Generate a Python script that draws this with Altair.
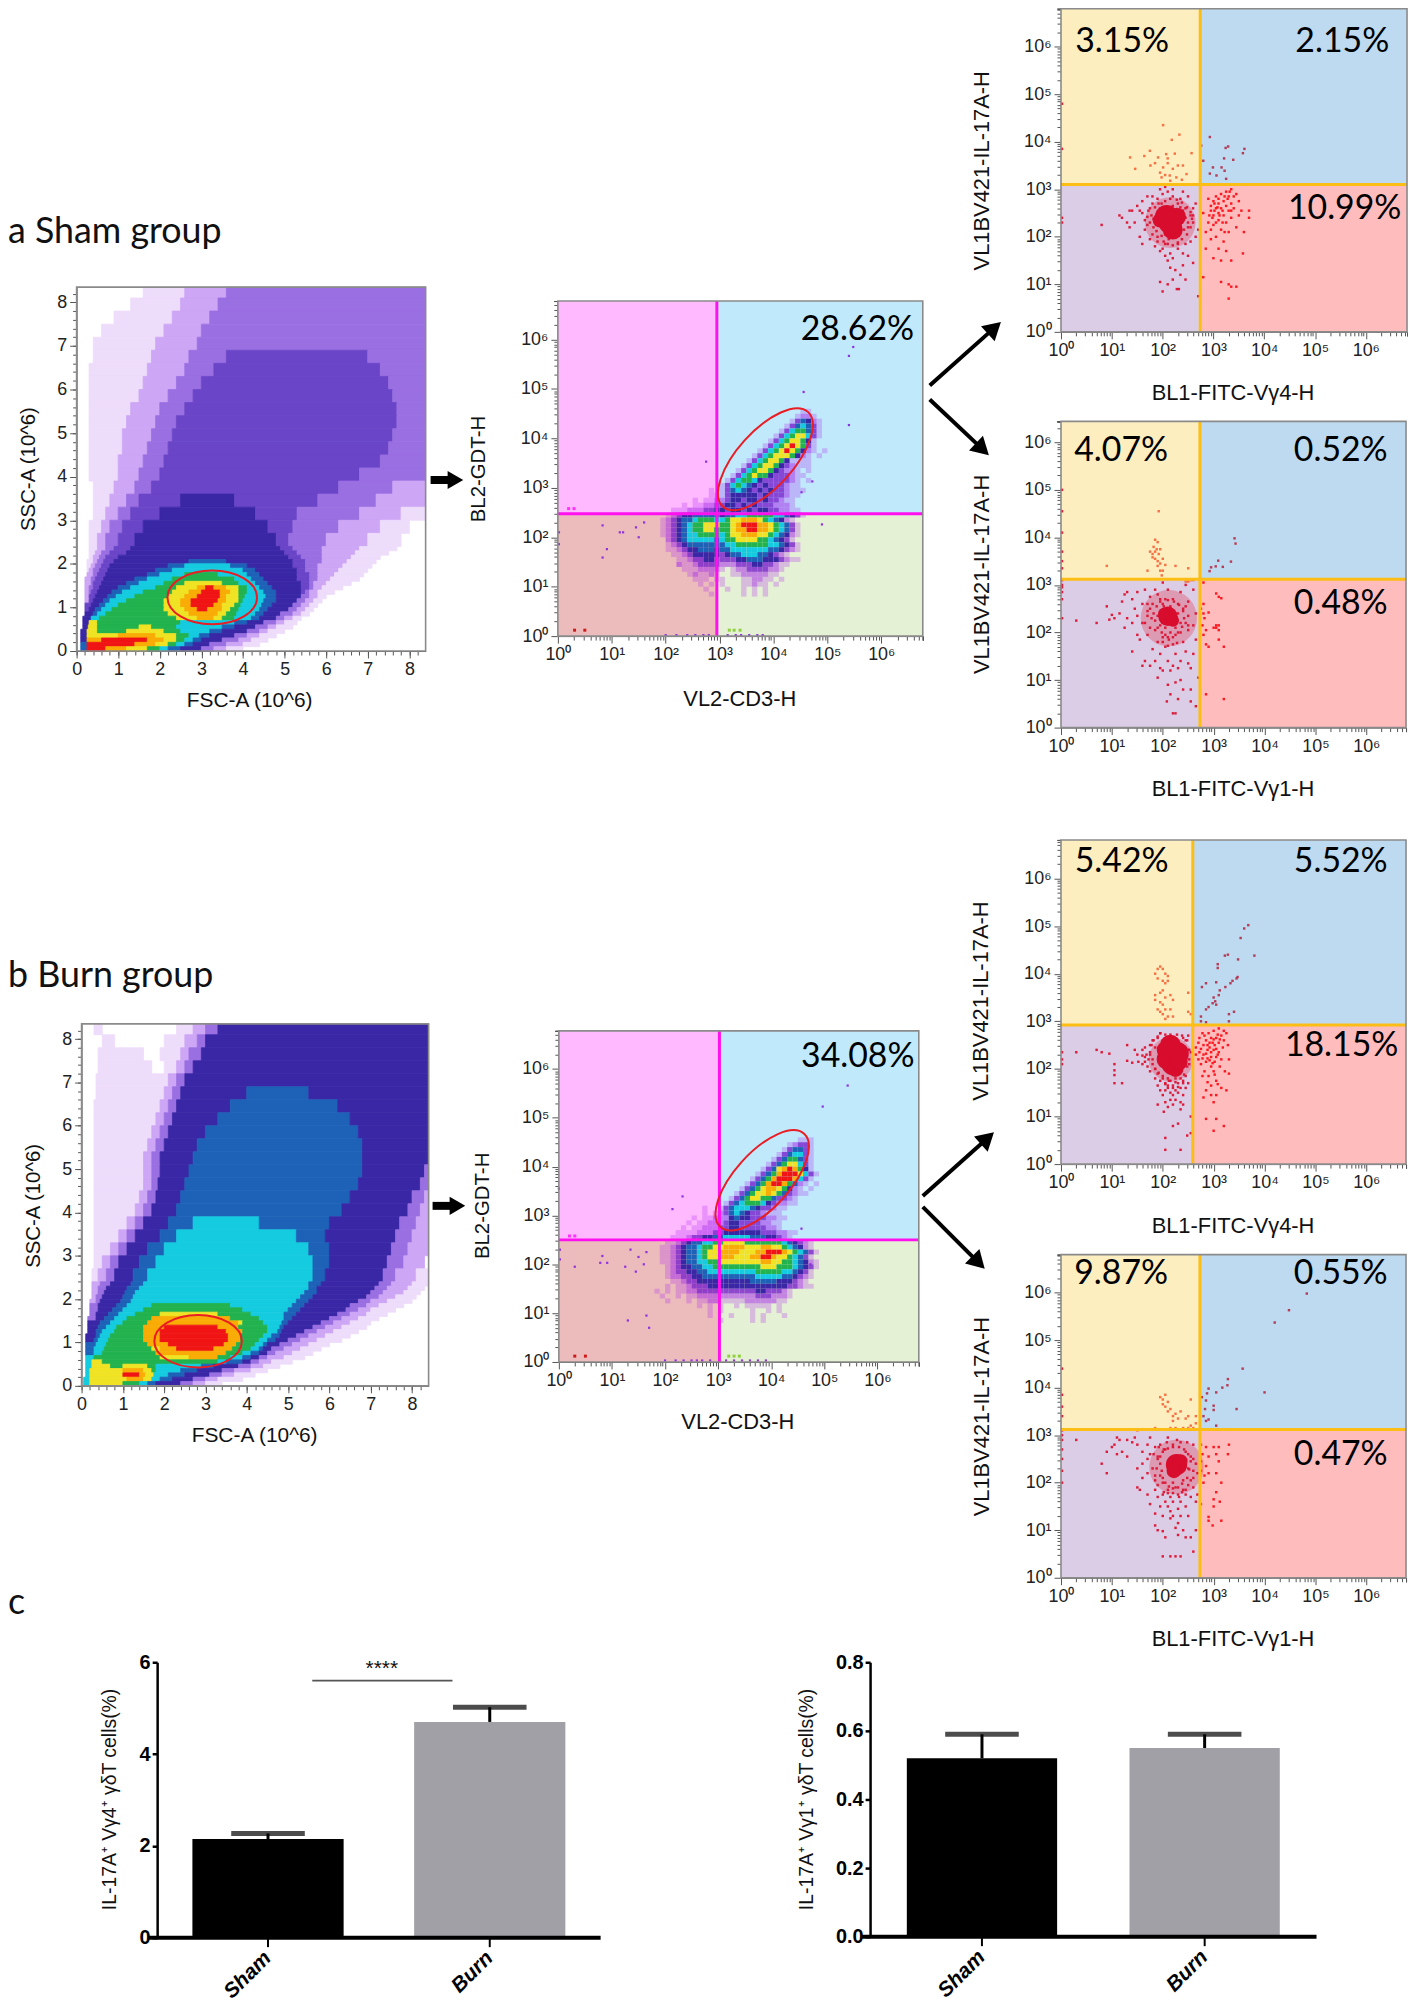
import numpy as np
import pandas as pd
import altair as alt

W, H = 1410, 1996

# ---------- density rows read by eye: each row is "level:x_end" runs, top row first ----------
OPAQUE = {"1": "#eedcfb", "2": "#cda6f5", "3": "#9a6fe2", "n": "#6a45c8", "4": "#3a27a6", "5": "#1e62b8",
          "6": "#14cbdf", "7": "#22b24e", "8": "#efe324", "9": "#f9ac05", "r": "#f01414"}
SEE_THROUGH = dict(OPAQUE, **{"1": "rgba(176,48,240,0.28)", "2": "rgba(165,40,235,0.55)", "3": "rgba(120,30,205,0.8)"})

FSC_SHAM_UPPER = [
".:1.6 1:2.6 2:3.6 3:8.4",
".:1.3 1:2.5 2:3.4 3:8.4",
".:.9 1:2.3 2:3.2 3:8.4",
".:.6 1:2.1 2:3.0 3:8.4",
".:.4 1:1.9 2:2.9 3:8.4",
".:.4 1:1.8 2:2.7 3:3.6 n:7 3:8.4",
".:.3 1:1.7 2:2.6 3:3.3 n:7.3 3:8.4",
".:.3 1:1.6 2:2.4 3:3.0 n:7.5 3:8.4",
".:.3 1:1.5 2:2.2 3:2.8 n:7.6 3:8.4",
".:.3 1:1.3 2:2.0 3:2.6 n:7.7 3:8.4",
".:.3 1:1.2 2:1.9 3:2.4 n:7.7 3:8.4",
".:.3 1:1.1 2:1.8 3:2.3 n:7.6 3:8.4",
".:.3 1:1.1 2:1.7 3:2.2 n:7.5 3:8.4",
".:.3 1:1.0 2:1.6 3:2.1 n:7.3 3:8.4",
".:.3 1:1.0 2:1.5 3:2.0 n:6.8 3:8.4",
".:.4 1:.9 2:1.4 3:1.8 n:6.3 3:7.6 2:8.4",
".:.4 1:.8 2:1.2 3:1.5 n:2.5 4:3.8 n:5.8 3:7.2 2:8.4",
".:.4 1:.7 2:1.0 3:1.3 n:2 4:4.3 n:5.3 3:6.8 2:7.8 1:8.4",
".:.3 1:.6 2:.8 3:1.1 n:1.6 4:4.6 n:5.2 3:6.3 2:7.3 1:8",
".:.3 1:.5 2:.7 3:1 n:1.4 4:4.8 n:5.1 3:6 2:7 1:7.8",
]
FSC_SHAM_LOWER = [
".:.3 1:.5 2:.7 3:.9 n:1.3 4:4.9 n:5.2 3:5.9 2:6.8 1:7.7",
".:.3 1:.45 2:.6 3:.8 n:1.2 4:5.0 n:5.3 3:5.9 2:6.7 1:7.5",
".:.3 1:.4 2:.55 3:.7 n:1.0 4:5.1 n:5.4 3:5.9 2:6.6 1:7.3",
".:.25 1:.4 2:.5 3:.65 n:.9 4:2.7 5:3.6 4:5.2 n:5.5 3:5.9 2:6.5 1:7.2",
".:.25 1:.35 2:.45 3:.6 n:.8 4:2.2 5:2.6 6:3.7 5:4.1 4:5.2 n:5.5 3:5.8 2:6.4 1:7.1",
".:.25 1:.3 2:.4 3:.55 n:.75 4:1.9 5:2.3 6:4.0 5:4.3 4:5.3 n:5.5 3:5.8 2:6.3 1:7",
".:.25 2:.4 3:.5 n:.7 4:1.7 5:2.0 6:2.6 7:3.4 6:4.1 5:4.4 4:5.3 n:5.6 3:5.8 2:6.2 1:6.9",
".:.2 2:.35 3:.45 n:.65 4:1.4 5:1.7 6:2.3 7:3.8 6:4.2 5:4.5 4:5.3 n:5.6 3:5.8 2:6.1 1:6.8",
".:.2 2:.35 3:.4 n:.6 4:1.2 5:1.5 6:2.1 7:2.6 8:3.5 7:3.9 6:4.3 5:4.6 4:5.4 n:5.6 3:5.7 2:6 1:6.6",
".:.2 2:.3 3:.4 n:.55 4:1 5:1.3 6:1.9 7:2.4 8:2.9 9:3.1 r:3.3 9:3.6 8:3.9 7:4.1 6:4.4 5:4.7 4:5.4 n:5.6 3:5.7 2:5.9 1:6.4",
".:.2 2:.3 3:.35 n:.5 4:.85 5:1.1 6:1.6 7:2.3 8:2.7 9:3.0 r:3.45 9:3.7 8:3.9 7:4.1 6:4.5 5:4.8 4:5.4 n:5.5 3:5.6 2:5.8 1:6.2",
".:.2 2:.3 n:.45 4:.75 5:.95 6:1.4 7:2.2 8:2.6 9:2.9 r:3.45 9:3.6 8:3.9 7:4.05 6:4.55 5:4.8 4:5.4 3:5.6 2:5.8 1:6",
".:.2 2:.3 n:.4 4:.65 5:.8 6:1.2 7:2.1 8:2.5 9:2.75 r:3.4 9:3.6 8:3.9 7:4 6:4.5 5:4.8 4:5.3 3:5.5 2:5.7 1:5.9",
".:.2 n:.35 4:.55 5:.7 6:1.0 7:2.1 8:2.5 9:2.75 r:3.3 9:3.5 8:3.8 7:3.95 6:4.45 5:4.7 4:5.2 3:5.4 2:5.6 1:5.8",
".:.2 n:.3 4:.45 5:.6 6:.85 7:2.1 8:2.6 9:2.9 r:3.15 9:3.5 8:3.7 7:3.9 6:4.4 5:4.6 4:5.1 3:5.3 2:5.5 1:5.7",
".:.2 4:.4 5:.5 6:.7 7:2.2 8:2.7 9:3.4 8:3.6 7:3.85 6:4.3 5:4.5 4:4.9 3:5.2 2:5.4 1:5.6",
".:.15 4:.35 6:.55 7:2.4 8:2.9 9:3.3 8:3.5 7:3.8 6:4.2 5:4.4 4:4.8 3:5 2:5.2 1:5.4",
".:.15 4:.3 8:.5 7:2.5 6:3.8 5:4.1 4:4.5 3:4.8 2:5 1:5.3",
".:.15 4:.28 8:.5 7:1.5 8:1.8 7:2.4 6:3.5 5:3.8 4:4.3 3:4.6 2:4.8 1:5.2",
".:.1 4:.25 8:.5 7:1.2 8:2.1 7:2.5 6:3.2 5:3.5 4:4.1 3:4.4 2:4.6 1:5",
".:.1 4:.25 8:1 9:1.9 8:2.4 7:2.7 6:2.95 5:3.2 4:3.8 3:4.1 2:4.4 1:4.8",
".:.1 4:.25 9:.6 r:1.7 9:2.1 8:2.4 7:2.6 6:2.8 5:3.0 4:3.5 3:3.9 2:4.2 1:4.6",
".:.1 5:.25 r:1.4 9:1.9 8:2.2 7:2.4 6:2.6 5:2.8 4:3.2 3:3.6 2:4 1:4.4",
".:.1 5:.25 r:.7 9:1.2 8:1.7 7:2 6:2.2 5:2.5 4:3 3:3.3 2:3.6 1:4",
]
FSC_BURN_UPPER = [
".:.3 1:.5 .:2.3 1:2.7 2:3 3:3.3 4:8.4",
".:.5 1:.8 .:2 1:2.5 2:2.8 3:3 4:8.4",
".:.4 1:1.5 .:1.9 1:2.4 2:2.6 3:2.9 4:8.4",
".:.4 1:1.7 .:2 1:2.3 2:2.5 3:2.7 4:8.4",
".:.35 1:2.1 2:2.3 3:2.5 4:8.4",
".:.35 1:2.0 2:2.2 3:2.4 4:4.0 5:5.5 4:8.4",
".:.3 1:1.9 2:2.1 3:2.3 4:3.6 5:6.2 4:8.4",
".:.3 1:1.8 2:2 3:2.2 4:3.3 5:6.5 4:8.4",
".:.3 1:1.7 2:1.9 3:2.1 4:3.0 5:6.7 4:8.4",
".:.3 1:1.6 2:1.8 3:2.0 4:2.8 5:6.8 4:8.4",
".:.3 1:1.5 2:1.7 3:1.9 4:2.7 5:6.8 4:8.4",
".:.3 1:1.5 2:1.7 3:1.9 4:2.6 5:6.8 4:8.3 3:8.4",
".:.3 1:1.5 2:1.7 3:1.85 4:2.5 5:6.7 4:8.2 3:8.4",
".:.3 1:1.4 2:1.6 3:1.8 4:2.4 5:6.5 4:8 3:8.3 2:8.4",
".:.3 1:1.3 2:1.5 3:1.7 4:2.3 5:6.3 4:7.9 3:8.2 2:8.4",
".:.3 1:1.1 2:1.3 3:1.5 4:2.1 5:2.7 6:4.3 5:6 4:7.7 3:8.1 2:8.4",
".:.3 1:.9 2:1.1 3:1.3 4:1.9 5:2.3 6:5.2 5:5.9 4:7.6 3:8 2:8.4",
".:.3 1:.7 2:.9 3:1.1 4:1.6 5:2.0 6:5.5 5:6 4:7.5 3:7.9 2:8.4",
".:.3 1:.5 2:.7 3:.9 4:1.4 5:1.8 6:5.6 5:6 4:7.4 3:7.8 2:8.3",
".:.25 1:.4 2:.6 3:.8 4:1.25 5:1.6 6:5.6 5:5.9 4:7.3 3:7.6 2:8.1 1:8.4",
]
FSC_BURN_LOWER = [
".:.25 2:.45 3:.7 4:1.2 5:1.5 6:5.5 5:5.8 4:7.2 3:7.5 2:8 1:8.4",
".:.25 2:.4 3:.6 4:1.1 5:1.4 6:5.5 5:5.7 4:7.1 3:7.4 2:7.9 1:8.3",
".:.25 2:.4 3:.55 4:1.05 5:1.3 6:5.4 5:5.7 4:7 3:7.3 2:7.8 1:8.2",
".:.25 2:.35 3:.5 4:1 5:1.25 6:5.3 5:5.6 4:6.9 3:7.2 2:7.6 1:8.1",
".:.2 2:.35 3:.45 4:.95 5:1.2 6:5.2 5:5.5 4:6.7 3:7 2:7.4 1:8",
".:.2 3:.4 4:.85 5:1.1 6:1.7 7:3.6 6:5.1 5:5.4 4:6.5 3:6.9 2:7.2 1:7.8",
".:.2 3:.4 4:.75 5:1 6:1.5 7:3.9 6:5 5:5.3 4:6.4 3:6.7 2:7 1:7.6",
".:.2 3:.35 4:.65 5:.9 6:1.3 7:1.9 8:3.3 7:4.1 6:4.9 5:5.2 4:6.2 3:6.5 2:6.9 1:7.4",
".:.15 3:.35 4:.55 5:.8 6:1.1 7:1.7 9:3.6 7:4.3 6:4.9 5:5.1 4:6 3:6.3 2:6.7 1:7.2",
".:.15 4:.45 5:.7 6:1 7:1.6 9:3.8 8:3.9 7:4.4 6:4.85 5:5 4:5.8 3:6.1 2:6.5 1:7",
".:.15 4:.4 5:.6 6:.85 7:1.5 9:2 r:3.3 9:3.8 7:4.5 6:4.8 5:4.9 4:5.6 3:5.9 2:6.3 1:6.9",
".:.15 4:.35 5:.5 6:.8 7:1.5 9:1.9 r:3.5 9:3.9 7:4.5 6:4.75 5:4.85 4:5.4 3:5.7 2:6.1 1:6.7",
".:.1 4:.35 5:.45 6:.7 7:1.5 9:1.9 r:3.55 9:3.85 7:4.4 6:4.6 5:4.8 4:5.2 3:5.5 2:5.9 1:6.5",
".:.1 4:.3 5:.4 6:.65 7:1.5 9:1.9 r:3.55 9:3.85 7:4.3 6:4.5 5:4.7 4:5 3:5.3 2:5.7 1:6.3",
".:.1 5:.35 6:.6 7:1.6 9:2.1 r:3.45 9:3.75 7:4.2 6:4.4 5:4.5 4:4.8 3:5.1 2:5.5 1:6",
".:.1 5:.3 6:.55 7:1.7 8:1.9 9:2.3 r:3.2 9:3.65 7:4.1 6:4.3 5:4.4 4:4.6 3:4.9 2:5.3 1:5.8",
".:.1 5:.3 6:.5 7:1.8 9:3.5 7:3.9 6:4.1 5:4.3 4:4.5 3:4.7 2:5.1 1:5.6",
".:.1 6:.3 7:1.9 8:2.6 9:3.3 7:3.6 6:3.9 5:4.1 4:4.3 3:4.5 2:4.9 1:5.4",
".:.1 6:.25 8:.5 7:3.3 6:3.5 5:3.9 4:4.1 3:4.3 2:4.6 1:5.1",
".:.1 6:.25 8:.7 7:1.0 8:1.6 7:1.8 6:2.9 5:3.2 4:3.8 3:4.1 2:4.4 1:4.8",
".:.1 6:.2 8:1 9:1.5 8:1.7 7:1.8 6:2.4 5:2.8 4:3.4 3:3.7 2:4.1 1:4.5",
".:.1 6:.2 8:1 r:1.4 9:1.55 8:1.75 6:2.1 5:2.5 4:3.1 3:3.4 2:3.7 1:4.2",
".:.05 6:.2 8:1.1 9:1.5 8:1.7 6:1.9 5:2.2 4:2.7 3:3 2:3.3 1:3.9",
".:.05 6:.2 8:1 7:1.4 6:1.6 5:1.8 4:2.4 3:2.7 2:3 1:3.4",
]

# one char per 0.1-decade cell, x from 10^1.8, top row just below 10^4.6
CD3_SHAM = [
"...........................11...",
"..........................1221..",
".........................135421.",
"........................1356531.",
".......................13677531.",
"......................136788631.",
".....................136788741..",
"....................13678r8731..",
"...................13678r87421.1",
"..................13678887421.1.",
".................136788741111...",
"................1367887432111...",
"...............136788743221.1...",
"..............13678774333211....",
".............13677643333321.1....",
"............136765434333211.....",
"..........1.1356543434332111....",
"..........11134444434333211.....",
".......1.11223443443433211......",
".....1.1122334434343332221......",
"...111222334434434344332211.....",
"..12344555554556677777665431....",
".1234556777667889998765421......",
".123456778887789rrr99876531.....",
".1234567788777899rr99876531.....",
".12345667777678899988765421......",
"..2345666665677888877654 31".replace(" ", ""),
"..12345555555667777776654 31".replace(" ", ""),
"..11234455545566666665543 21".replace(" ", ""),
"...11234444434556665543 21".replace(" ", ""),
"....11233443333445554443211.....",
"....211233332223334433211.......",
".....11122221.1223333221........",
"......121121..112222211.........",
".......111.11...112211.1........",
"........1.1.1...11211.1.........",
".........1...1..1.1.1...........",
"..........1.....1.1.1...........",
]
CD3_BURN = [
"...........................111..",
".........................12331..",
"........................135531..",
".......................1356631..",
"......................13577531..",
".....................135788631..",
"....................13589r9741..",
"...................13579rrr8631.",
"..................13579rrr9631..",
".................13579rr97521.1.",
"................135789987421.1.",
"...............13578898753211...",
"..............1357887753321.....",
".............13567776432211.....",
".........1..1356665433211......",
".........1.1235654332111........",
".......1.1122245443332211.......",
"......1.1122234433332211.......",
".....1.11222334433333221........",
"....11112223344444443332211.....",
"...11123344556666655544321......",
"..11234556677888877777776543 21".replace(" ", ""),
".11234556778899998889988765421",
".11234556788999988899rrr9876531",
".1123455678899988899rr98876531",
".112345566778888888899887765421",
"..12344556677777777788877765431",
"..12334455666666666777776654 31".replace(" ", ""),
"..1223344555555555566666554321",
"...11233444444444455555444321",
"..1.11233344444444444444433211",
"1.1.11223333333333344333 21".replace(" ", ""),
".1..1.11222222222223332221",
"..1...1.11221111122222211",
"........1.1.1..1.11111.1",
"..........1.1.....1..1.1",
"..........1...1...1.1...1",
"............1.....1.1...",
]

# ---------- outlying events in the CD3 plots (log10 x, log10 y) ----------
CD3_SHAM_OUT = [(5.48,5.85),(5.4,5.67),(4.56,4.94),(5.4,4.27),(2.75,3.53),(.91,1.76),(.83,1.59),(1.15,2.1),(1.21,2.1),
                (.83,2.24),(.02,2.1),(.02,1.86),(4.9,2.26),(4.72,3.13),(4.52,2.91),(1.5,2.0),(1.45,2.2),(1.6,2.3),
                (2.0,.02),(2.2,.02),(2.4,.02),(2.55,.02),(2.7,.02),(2.8,.02),(3.15,.02),(3.3,.02),(3.4,.02),(3.55,.02),(3.7,.02),(3.8,.02)]
CD3_BURN_OUT = [(5.44,5.66),(4.97,5.23),(.0,3.55),(2.33,3.39),(2.14,3.13),(.3,1.95),(.82,2.17),(.78,2.03),(.91,2.03),
                (.02,2.3),(.02,2.1),(4.74,2.0),(4.57,2.73),(1.35,2.3),(1.5,2.15),(1.6,2.0),(1.25,1.95),(1.45,1.85),
                (1.65,2.25),(1.3,.85),(1.65,.95),(1.7,.7),(2.0,.03),(2.2,.03),(2.35,.03),(2.5,.03),(2.6,.03),(2.7,.03),
                (2.85,.03),(3.15,.03),(3.3,.03),(3.45,.03),(3.6,.03),(3.75,.03),(3.9,.03)]
MARKS_SHAM = [(.2,2.58,"#ff30ff"),(.3,2.58,"#ff30ff"),(.31,.12,"#d01818"),(.5,.12,"#d01818"),
              (3.18,.12,"#90d040"),(3.27,.12,"#90d040"),(3.38,.12,"#90d040")]
MARKS_BURN = [(.2,2.58,"#ff30ff"),(.3,2.58,"#ff30ff"),(.3,.12,"#d01818"),(.5,.12,"#d01818"),
              (3.2,.12,"#90d040"),(3.3,.12,"#90d040"),(3.4,.12,"#90d040")]

# ---------- Il-17 / V-gamma events (log10 x, log10 y) ----------
R1_HALO = [(2.15,2.3,2600)]
R1_CORE = [(2.08,2.42,560),(2.2,2.15,400),(2.28,2.42,340),(1.95,2.35,220),(2.15,2.3,560)]
R1_NEAR = [(1.78,2.45),(1.75,2.3),(1.72,2.55),(1.82,2.2),(1.85,2.62),(1.88,2.12),(1.92,2.7),(1.98,2.02),(2.02,1.9),(2.1,1.85),(2.2,1.82),(2.3,1.88),(2.38,1.95),
           (2.48,2.05),(2.55,2.2),(2.58,2.38),(2.55,2.52),(2.48,2.62),(2.38,2.72),(2.28,2.78),(2.15,2.8),(2.05,2.75),(1.95,2.6),(2.45,2.4),(2.42,2.15),(1.98,2.7),
           (1.82,2.38),(1.9,2.25),(2.4,2.55),(2.32,2.02),(2.22,1.98),(2.05,2.05),(2.12,1.95),(2.5,2.3),(2.35,2.62),(2.2,2.65),(1.7,2.42),(1.65,2.35),(2.6,2.45)]
R1_DARK = [(.8,2.25),(1.2,2.4),(1.3,2.3),(1.4,2.55),(1.35,2.2),(1.5,2.65),(1.45,2.3),(1.55,2.0),(1.6,2.75),(1.6,2.5),(1.65,2.15),
           (1.7,2.85),(1.7,2.25),(1.75,1.95),(1.8,2.7),(1.8,2.05),(1.85,1.8),(1.9,2.8),(1.9,1.9),(1.95,3.0),(1.95,1.7),(2.0,2.9),
           (2.0,1.75),(2.05,1.6),(2.1,2.95),(2.1,1.5),(2.15,1.65),(2.15,1.35),(2.2,2.85),(2.2,1.55),(2.25,1.3),(2.3,2.7),(2.3,1.75),
           (2.35,1.2),(2.35,2.5),(2.4,1.4),(2.45,2.6),(2.45,1.85),(2.5,2.2),(2.5,2.85),(2.55,1.9),(2.55,2.45),(2.6,2.3),(2.6,1.45),
           (2.65,2.0),(2.65,2.7),(2.7,2.15),(2.7,.75),(2.0,.85),(1.95,1.05),(2.2,1.1),(2.28,.9),(2.32,.9),(2.1,1.0),(2.45,1.1),
           (1.35,2.55),(1.15,2.45),(1.55,2.55),(1.6,1.85),(1.75,2.6),(1.8,2.85),(2.05,3.05),(2.2,3.0),(2.4,2.95),(2.35,2.8),(2.6,2.6),
           (2.05,1.85),(2.3,1.85),(2.4,1.65),(2.5,1.6),(1.9,2.0),(.02,4.8),(.02,3.85),(.02,2.4),(.02,2.3)]
R1_BRIGHT = [(2.8,2.5),(2.85,2.1),(2.85,1.75),(2.9,2.8),(2.9,2.3),(2.95,1.95),(2.95,2.65),(3.0,2.45),(3.0,2.75),(3.0,1.55),(3.0,2.25),
             (3.05,2.6),(3.05,2.85),(3.05,2.0),(3.1,2.5),(3.1,2.7),(3.1,2.35),(3.1,1.75),(3.15,2.9),(3.15,2.6),(3.15,2.15),(3.15,1.5),
             (3.2,2.75),(3.2,2.45),(3.2,1.9),(3.25,2.95),(3.25,2.65),(3.25,2.3),(3.25,1.7),(3.3,2.85),(3.3,2.55),(3.3,2.1),(3.35,3.0),
             (3.35,2.7),(3.35,2.4),(3.35,1.5),(3.4,2.85),(3.4,2.6),(3.45,2.9),(3.45,2.2),(3.5,2.75),(3.5,2.45),(3.6,2.1),(3.55,2.55),
             (2.8,1.15),(3.3,1.0),(3.15,1.05),(3.3,.7),(3.35,.95),(3.45,.95),(3.58,1.65),(3.7,2.4),(3.7,2.55),(2.95,2.55),(3.02,2.55),(3.08,2.62),
             (2.98,2.4),(3.02,2.7),(3.1,2.8),(3.12,2.45),(3.18,2.55),(3.22,2.85),(2.92,2.45),(3.28,2.8),(3.32,2.95),(3.05,2.3),(3.18,2.3),(3.22,2.1),(2.95,2.15),(3.35,2.55)]
R1_ORANGE = [(2.01,4.35),(2.33,4.15),(2.18,4.04),(1.36,3.67),(1.64,3.7),(1.75,3.81),(1.91,3.67),(2.07,3.74),(2.24,3.75),(2.57,3.76),
             (1.46,3.43),(1.76,3.5),(2.01,3.46),(2.2,3.43),(2.4,3.5),(1.98,3.25),(2.14,3.29),(2.27,3.25),(2.47,3.32),(2.1,3.55),
             (2.05,3.3),(2.15,3.18),(1.95,3.35),(2.1,3.65),(1.85,3.55),(2.3,3.5),(2.38,3.2)]
R1_BLUE = [(2.93,4.1),(3.29,3.9),(3.24,3.87),(3.61,3.85),(3.58,3.76),(3.21,3.65),(3.39,3.62),(2.8,3.6),(2.99,3.46),(3.16,3.46),
           (3.22,3.39),(2.93,3.33),(3.06,3.29),(3.25,3.22),(2.76,3.92)]

R2_HALO = [(2.12,2.3,3200)]
R2_CORE = [(2.1,2.34,380),(2.02,2.4,130),(2.2,2.25,150)]
R2_NEAR = [(1.82,2.4),(1.85,2.25),(1.88,2.55),(1.9,2.1),(1.95,2.7),(1.98,2.0),(2.05,1.95),(2.12,1.85),(2.2,1.9),(2.3,2.0),(2.38,2.12),(2.42,2.3),(2.4,2.45),
           (2.32,2.58),(2.22,2.65),(2.1,2.68),(2.0,2.6),(1.78,2.3),(1.75,2.5),(1.9,2.35),(2.35,2.2),(2.3,2.4),(1.95,2.15),(2.05,2.1),(2.15,2.0),(2.25,2.1),(2.15,2.55),
           (2.02,2.55),(2.5,2.35),(2.45,2.55),(2.5,2.15),(1.7,2.35),(1.65,2.2),(1.7,2.6),(2.28,1.78),(2.1,1.72),(2.0,1.8)]
R2_DARK = [(.3,2.25),(.7,2.2),(.9,2.55),(.95,2.27),(1.0,2.37),(1.05,2.3),(1.15,2.4),(1.2,2.65),(1.25,2.8),(1.3,2.3),(1.3,2.85),(1.25,2.1),
           (1.4,2.7),(1.4,1.6),(1.4,2.2),(1.45,2.5),(1.5,2.85),(1.5,2.35),(1.5,1.95),(1.55,1.85),(1.6,2.6),(1.6,2.2),(1.6,1.3),(1.65,1.4),
           (1.65,2.9),(1.7,2.45),(1.7,1.95),(1.75,2.75),(1.75,2.1),(1.75,1.3),(1.8,1.65),(1.8,2.6),(1.85,2.9),(1.85,2.05),(1.85,1.4),
           (1.9,1.05),(1.9,2.8),(1.9,1.8),(1.95,2.65),(1.95,1.55),(1.95,1.25),(2.0,3.05),(2.0,1.9),(2.0,1.2),(2.05,1.7),(2.05,2.7),
           (2.08,.55),(2.1,2.9),(2.1,1.9),(2.1,1.4),(2.1,.9),(2.15,1.2),(2.15,.7),(2.2,1.75),(2.2,2.7),(2.2,1.3),(2.2,.3),(2.25,.3),
           (2.25,1.95),(2.25,1.55),(2.25,.95),(2.3,2.6),(2.3,1.25),(2.3,.6),(2.35,2.85),(2.35,2.0),(2.35,1.4),(2.35,1.0),(2.4,1.8),
           (2.4,2.5),(2.4,.8),(2.45,2.2),(2.45,1.6),(2.45,3.0),(2.5,1.35),(2.5,2.05),(2.5,2.65),(2.55,1.25),(2.55,.8),(2.55,.55),
           (2.6,2.15),(2.6,2.9),(2.6,1.55),(2.65,.45),(2.7,1.05),(2.65,1.85),(2.65,2.4),(.02,3.1),(.02,3.0),(.02,2.95),(.02,2.85),(.02,2.7),
           (.02,2.3),(.02,3.35),(.02,3.5),(.02,3.7),(.02,4.1),(.02,4.55),(.02,5.0)]
R2_BRIGHT = [(2.75,2.5),(2.8,2.4),(2.82,2.3),(2.78,2.15),(2.85,2.05),(2.8,1.95),(2.85,1.75),(2.8,2.6),(2.9,2.42),(2.9,1.7),
             (3.05,2.15),(3.1,2.15),(3.1,1.85),(3.1,2.05),(3.2,1.7),(3.05,2.1),(3.0,2.1),(3.15,2.72),(3.05,2.82),(3.1,2.75),(2.85,.7),(3.2,.6),(2.8,3.05)]
R2_ORANGE = [(1.92,4.55),(1.85,3.95),(1.9,3.9),(1.82,3.8),(1.88,3.75),(1.75,3.7),(1.8,3.65),(1.85,3.7),(1.92,3.65),(1.95,3.75),(1.8,3.58),
             (1.85,3.55),(1.9,3.5),(1.95,3.45),(2.0,3.55),(1.9,3.4),(1.95,3.3),(2.0,3.3),(2.05,3.42),(1.7,3.3),(1.98,3.2),(.9,3.4),(2.25,3.4),(2.5,3.35),
             (2.45,3.07),(2.5,3.07),(2.55,3.1),(2.6,3.1)]
R2_BLUE = [(3.41,3.98),(3.43,3.87),(3.34,3.49),(3.18,3.38),(3.09,3.51),(3.04,3.39),(2.95,3.37),(2.92,3.29)]

R3_HALO = [(2.16,2.2,2000)]
R3_CORE = [(2.16,2.3,700),(2.2,2.1,500),(2.08,2.2,420),(2.28,2.32,560),(2.15,2.5,440),(2.25,2.0,260),(2.05,2.4,300),(2.32,2.15,300)]
R3_NEAR = [(1.75,2.35),(1.72,2.2),(1.78,2.5),(1.8,2.1),(1.82,2.6),(1.85,2.0),(1.9,2.68),(1.92,1.92),(2.0,1.8),(2.05,2.72),(2.12,1.75),(2.25,1.72),(2.35,1.8),(2.42,1.88),
           (2.48,2.05),(2.52,2.2),(2.52,2.4),(2.48,2.6),(2.38,2.7),(2.28,2.72),(2.15,2.72),(1.95,2.75),(1.68,2.3),(1.65,2.15),(1.6,2.28),(2.1,1.65),(2.2,1.6),(2.3,1.62),(2.05,1.68),(2.4,1.7)]
R3_DARK = [(.02,2.35),(.02,2.2),(.02,2.1),(.3,2.35),(.7,2.4),(.8,2.35),(.95,2.32),(1.05,1.97),(1.05,1.87),(1.05,1.7),(1.05,2.1),(1.2,1.7),(1.3,2.17),(1.3,2.5),
           (1.4,2.13),(1.45,2.4),(1.5,2.3),(1.52,2.15),(1.6,2.4),(1.6,2.1),(1.65,2.25),(1.65,2.45),(1.7,2.05),(1.75,2.3),(1.75,2.5),(1.75,1.95),
           (1.8,2.2),(1.8,2.6),(1.85,1.8),(1.85,2.0),(1.85,2.45),(1.9,1.9),(1.9,2.65),(1.9,1.65),(1.9,1.25),(1.95,1.75),(1.95,1.55),(1.95,2.75),(2.0,1.85),
           (2.0,1.45),(2.0,2.6),(2.02,1.1),(2.05,1.7),(2.05,1.55),(2.05,1.3),(2.05,.3),(2.05,.55),(2.1,1.8),(2.1,1.6),(2.1,1.2),(2.15,1.75),
           (2.15,1.5),(2.15,1.35),(2.2,1.65),(2.2,1.45),(2.2,1.25),(2.2,.8),(2.25,1.8),(2.25,1.55),(2.25,1.35),(2.3,1.7),(2.3,1.5),(2.3,.85),
           (2.35,1.6),(2.35,1.3),(2.35,1.15),(2.35,.3),(2.4,1.75),(2.4,1.45),(2.4,1.25),(2.45,1.85),(2.45,1.6),(2.45,2.6),(2.5,1.7),(2.5,2.4),(2.5,2.7),
           (2.48,.6),(2.55,.65),(2.55,1.0),(2.4,2.65),(2.45,2.2),(2.52,2.1),(2.55,2.35)]
R3_BRIGHT = [(2.65,2.3),(2.65,2.45),(2.7,2.55),(2.7,2.2),(2.72,2.65),(2.75,2.1),(2.78,2.75),(2.8,2.5),(2.8,2.3),(2.82,1.95),(2.85,2.6),(2.85,2.15),
             (2.88,2.4),(2.9,2.75),(2.9,1.85),(2.92,2.55),(2.95,2.25),(2.95,2.05),(2.95,2.65),(3.0,2.8),(3.0,2.4),(3.0,1.95),(3.02,2.5),(3.02,2.15),
             (3.05,2.65),(3.05,1.75),(3.08,2.3),(3.1,2.85),(3.1,2.55),(3.12,2.05),(3.15,2.7),(3.15,1.6),(3.15,2.2),(3.18,2.45),(3.2,2.8),(3.2,2.6),
             (3.22,1.95),(3.25,2.75),(3.28,2.5),(3.3,2.2),(3.3,1.9),(2.95,1.45),(3.0,1.3),(3.05,1.45),(2.85,.95),(3.0,.7),(3.05,.95),(3.2,.8),(3.25,1.55),(2.8,1.4),
             (2.75,2.42),(2.88,2.22),(2.92,2.45),(3.0,2.62),(3.08,2.72),(3.12,2.62),(2.82,2.7),(2.88,2.5),(2.95,2.35),(2.98,2.55),(3.05,2.42),(2.72,2.35),(2.78,2.22),(2.85,2.32),
             (2.92,2.18),(3.05,2.25),(3.1,2.35),(2.98,2.12),(2.88,1.72),(2.95,1.65),(3.02,1.88),(3.08,1.68),(2.78,1.85),(2.85,1.55)]
R3_ORANGE = [(1.9,4.1),(1.95,4.15),(2.0,4.1),(1.85,4.0),(2.05,4.0),(2.1,3.95),(1.9,3.9),(2.0,3.85),(2.05,3.8),(2.1,3.85),(1.85,3.55),(1.95,3.6),(2.0,3.65),
             (1.85,3.45),(1.95,3.4),(2.05,3.5),(2.15,3.55),(2.2,3.45),(2.0,3.35),(1.9,3.25),(1.95,3.2),(2.05,3.25),(2.15,3.25),(2.0,3.15),(2.05,3.05),(2.1,3.1),(2.2,3.1),(2.5,3.6),(2.5,3.2),(2.55,3.15)]
R3_BLUE = [(3.68,5.02),(3.6,4.95),(3.53,4.75),(3.28,4.4),(3.22,4.38),(3.48,4.3),(3.8,4.38),(3.08,4.2),(3.08,4.12),(3.47,3.93),(3.37,3.85),(3.33,3.8),(3.05,3.82),(2.85,3.8),
           (2.77,3.72),(3.23,3.72),(3.12,3.65),(3.1,3.55),(3.0,3.5),(3.03,3.42),(2.98,3.38),(2.9,3.3),(2.85,3.25),(3.05,3.35),(2.75,3.1),(2.75,3.0),(3.3,3.15),(3.4,3.2),(3.3,3.0),(2.85,2.98),(3.45,3.9)]

R4_HALO = [(2.27,2.33,3000)]
R4_CORE = [(2.27,2.38,460),(2.22,2.25,220),(2.35,2.45,200)]
R4_NEAR = [(1.95,2.4),(1.98,2.25),(1.95,2.55),(2.0,2.1),(2.02,2.7),(2.05,2.0),(2.12,1.92),(2.2,1.88),(2.3,1.9),(2.38,1.98),(2.48,2.1),(2.52,2.28),(2.55,2.45),(2.5,2.6),(2.42,2.7),
           (2.32,2.75),(2.2,2.75),(2.1,2.72),(2.0,2.65),(1.9,2.5),(1.88,2.3),(1.85,2.15),(1.82,2.6),(2.55,2.05),(2.6,2.25),(2.6,2.5),(2.48,2.85),(2.28,2.9),(2.08,2.85),(1.92,2.75),
           (2.38,1.8),(2.2,1.78),(2.1,1.78),(2.32,1.7),(2.45,1.85),(2.02,1.8)]
R4_DARK = [(.02,3.1),(.02,3.0),(.02,2.9),(.02,2.7),(.02,2.5),(.02,2.25),(.02,2.0),(.02,3.4),(.02,3.6),(.02,3.85),(.02,4.4),(.3,2.9),(.8,2.4),(.9,2.2),(.9,2.65),
           (1.0,2.75),(1.05,2.8),(1.1,2.95),(1.1,2.6),(1.15,2.9),(1.2,2.65),(1.3,2.9),(1.3,2.55),(1.4,2.85),(1.45,2.95),(1.5,2.8),(1.5,2.3),
           (1.5,1.9),(1.55,1.85),(1.6,2.65),(1.6,2.4),(1.6,2.1),(1.7,2.8),(1.7,2.5),(1.7,2.2),(1.7,1.75),(1.75,2.95),(1.75,2.6),(1.75,1.55),(1.8,2.3),
           (1.85,2.05),(1.85,1.85),(1.85,2.75),(1.85,1.35),(1.85,1.1),(1.9,2.55),(1.9,1.95),(1.9,1.7),(1.9,1.0),(1.95,2.15),(1.95,2.8),(1.95,1.5),
           (2.0,2.0),(2.0,1.75),(2.0,1.3),(2.0,.98),(2.0,.45),(2.05,2.7),(2.05,1.6),(2.05,.85),(2.1,1.85),(2.1,1.5),(2.1,2.95),(2.15,1.7),(2.15,1.4),
           (2.15,1.25),(2.15,.45),(2.2,2.8),(2.2,2.0),(2.2,1.6),(2.2,1.3),(2.25,1.9),(2.25,1.05),(2.25,.45),(2.3,1.75),(2.3,1.45),(2.3,1.15),(2.3,.9),
           (2.35,2.85),(2.35,1.6),(2.35,1.3),(2.35,.45),(2.4,2.05),(2.4,1.85),(2.4,1.0),(2.45,2.65),(2.45,1.75),(2.45,1.5),(2.45,.85),(2.5,2.3),
           (2.5,1.95),(2.5,1.3),(2.55,2.55),(2.55,1.7),(2.55,.85),(2.6,2.1),(2.6,2.8),(2.6,1.9),(2.6,.55),(2.65,2.4),(2.65,1.6),(2.65,1.0),(2.68,1.75),(2.68,2.2)]
R4_BRIGHT = [(2.75,2.8),(2.75,2.45),(2.75,2.25),(2.75,1.55),(2.78,2.6),(2.8,2.0),(2.82,2.15),(2.85,2.75),(2.85,2.35),(2.9,2.55),(2.9,2.2),(2.9,1.2),(2.9,1.28),(3.0,2.75),(3.0,1.5),
             (3.05,2.6),(3.05,2.2),(3.05,1.8),(3.1,2.75),(3.1,2.45),(3.12,1.6),(3.15,2.0),(3.15,1.2),(3.3,2.8),(3.28,2.6),(2.98,1.1),(3.0,1.65)]
R4_ORANGE = [(1.95,3.8),(2.0,3.75),(2.05,3.85),(2.0,3.65),(2.05,3.6),(2.1,3.7),(2.15,3.55),(2.1,3.5),(2.2,3.4),(2.25,3.45),(2.3,3.35),(2.35,3.5),(2.2,3.3),(2.45,3.35),(2.5,3.4),
             (2.5,3.15),(2.55,3.2),(2.6,3.15),(2.4,3.15),(2.25,3.15),(2.15,3.15),(1.85,3.15),(1.5,3.1),(2.55,3.75),(2.65,3.25),(2.65,3.4)]
R4_BLUE = [(4.83,5.98),(4.48,5.63),(4.2,5.37),(3.57,4.4),(3.28,4.18),(3.27,4.05),(3.17,4.0),(4.0,3.9),(2.9,3.98),(2.87,3.88),(3.05,3.9),(2.77,3.8),(2.85,3.73),(3.0,3.62),(2.83,3.55),(3.0,3.53),
           (3.45,3.55),(2.85,3.3),(3.05,3.2),(2.9,3.33),(2.8,3.4)]

# ---------- panels: pixel box in the figure, axis length in decades/units, gates ----------
SHAM_FSC = dict(x0=77, x1=428, y0=283, y1=649, dx=8.39, dy=8.35)
BURN_FSC = dict(x0=82, x1=431, y0=1024, y1=1388, dx=8.4, dy=8.35)
SHAM_CD3 = dict(x0=561, x1=928, y0=297, y1=634, dx=6.77, dy=6.78, gx=2.95, gy=2.475)
BURN_CD3 = dict(x0=562, x1=924, y0=1031, y1=1364, dx=6.78, dy=6.78, gx=3.025, gy=2.5)
R1 = dict(x0=1067, x1=1415, y0=3, y1=328, dx=6.81, dy=6.8, gx=2.74, gy=3.1)
R2 = dict(x0=1067, x1=1414, y0=418, y1=726, dx=6.78, dy=6.44, gx=2.73, gy=3.12)
R3 = dict(x0=1067, x1=1414, y0=839, y1=1165, dx=6.78, dy=6.81, gx=2.59, gy=2.92)
R4 = dict(x0=1067, x1=1414, y0=1256, y1=1581, dx=6.78, dy=6.8, gx=2.73, gy=3.12)

CD3_COLORS = dict(ul="#ffb9ff", ur="#c0eafb", ll="#ecbcbc", lr="#e5f1d4")
R_COLORS = dict(ul="#fdeec0", ur="#bedaf0", ll="#dccde6", lr="#ffbcbc")
MAGENTA, AMBER = "#ff10ef", "#fcbd15"

SHAM_CD3_PCT = [("28.62%", 6.61, 6.19, "right")]
BURN_CD3_PCT = [("34.08%", 6.7, 6.24, "right")]
R1_PCT = [("3.15%", .28, 6.1, "left"), ("2.15%", 6.46, 6.1, "right"), ("10.99%", 6.7, 2.59, "right")]
R2_PCT = [("4.07%", .26, 5.82, "left"), ("0.52%", 6.42, 5.82, "right"), ("0.48%", 6.42, 2.6, "right")]
R3_PCT = [("5.42%", .27, 6.34, "left"), ("5.52%", 6.42, 6.34, "right"), ("18.15%", 6.63, 2.47, "right")]
R4_PCT = [("9.87%", .26, 6.38, "left"), ("0.55%", 6.42, 6.38, "right"), ("0.47%", 6.42, 2.58, "right")]

# gates: centre x, centre y, half-length px, width ratio, rotation
SHAM_FSC_GATE = (3.26, 1.23, 45, 0.6, 0)
BURN_FSC_GATE = (2.82, 1.03, 44, 0.6, 0)
SHAM_CD3_GATE = (3.85, 3.58, 64, 0.44, 312)
BURN_CD3_GATE = (3.83, 3.72, 63, 0.44, 312)

LINEAR_TICKS = list(range(9))
LINEAR_MINOR = [round(v * 0.2, 1) for v in range(42)]
LOG_TICKS = list(range(7))
LOG_MINOR = [float(k + np.log10(m)) for k in range(7) for m in range(2, 10)]
SUP = "['⁰','¹','²','³','⁴','⁵','⁶'][datum.value]"

GROUPS = ["Sham", "Burn"]
V4_MEAN, V4_UP = [2.15, 4.7], [2.27, 5.02]
V1_MEAN, V1_UP = [0.52, 0.55], [0.59, 0.59]
BAR_COLORS = ["#000000", "#a1a0a6"]
V4_BOX = dict(x0=158, x1=604, y0=1666, y1=1943, top=6, ticks=[0, 2, 4, 6], inner=.318, outer=.159, sig=(314, 455, 5.6))
V1_BOX = dict(x0=875, x1=1324, y0=1666, y1=1942, top=.8, ticks=[0, .2, .4, .6, .8], inner=.325, outer=.165)

ARROWS = [  # x1, y1, x2, y2, width, heading, head size
    (433, 477, 458, 477, 8, 90, 330), (435, 1207, 460, 1207, 8, 90, 330),
    (935, 382, 1000, 324, 4, 48, 420), (935, 396, 988, 446, 4, 133, 420),
    (928, 1197, 993, 1139, 4, 48, 420), (928, 1208, 984, 1264, 4, 135, 420),
]

ARIAL_TEXT = [  # text, cx, cy, angle, size
    ("FSC-A (10^6)", 251, 699, 0, 21), ("SSC-A (10^6)", 29, 466, 270, 20.5),
    ("VL2-CD3-H", 744, 697, 0, 22), ("BL2-GDT-H", 482, 466, 270, 20.5),
    ("BL1-FITC-Vγ4-H", 1240, 390, 0, 22), ("VL1BV421-IL-17A-H", 988, 166, 270, 22),
    ("BL1-FITC-Vγ1-H", 1240, 788, 0, 22), ("VL1BV421-IL-17A-H", 988, 572, 270, 22),
    ("FSC-A (10^6)", 256, 1438, 0, 21), ("SSC-A (10^6)", 34, 1207, 270, 20.5),
    ("VL2-CD3-H", 742, 1424, 0, 22), ("BL2-GDT-H", 486, 1207, 270, 20.5),
    ("BL1-FITC-Vγ4-H", 1240, 1227, 0, 22), ("VL1BV421-IL-17A-H", 987, 1001, 270, 22),
    ("BL1-FITC-Vγ1-H", 1240, 1643, 0, 22), ("VL1BV421-IL-17A-H", 988, 1419, 270, 22),
    ("IL-17A⁺ Vγ4⁺ γδT cells(%)", 111, 1804, 270, 19.5), ("IL-17A⁺ Vγ1⁺ γδT cells(%)", 812, 1804, 270, 19.5),
    ("****", 384, 1673, 0, 21),
]
SECTION_TEXT = [("a Sham group", 8, 228, 36), ("b Burn group", 8, 976, 36), ("c", 8, 1606, 36)]

FLOW_FONT, PCT_FONT = "Liberation Sans", "Lato"
TICK_GREY = "#555555"


# ---------- helpers ----------
def px(v):
    return v - 8


def sx(p):
    return alt.Scale(domain=[0, p["dx"]], range=[px(p["x0"]), px(p["x1"])], clamp=True, nice=False, zero=False)


def sy(p):
    return alt.Scale(domain=[0, p["dy"]], range=[px(p["y1"]), px(p["y0"])], clamp=True, nice=False, zero=False)


def X(p, f="x", axis=None):
    return alt.X(f"{f}:Q", title=None, scale=sx(p), axis=axis)


def Y(p, f="y", axis=None):
    return alt.Y(f"{f}:Q", title=None, scale=sy(p), axis=axis)


def xaxis(p, values, major, size, expr=None):
    kw = dict(orient="bottom", offset=px(p["y1"]) - H, values=values, grid=False, title=None, domain=major,
              domainColor=TICK_GREY, tickColor=TICK_GREY, tickSize=7 if major else 4, labels=major)
    if major:
        kw.update(labelFont=FLOW_FONT, labelFontSize=size, labelColor="#222222", labelPadding=3, labelFlush=False, labelOverlap=False)
        if expr:
            kw["labelExpr"] = expr
    return alt.Axis(**kw)


def yaxis(p, values, major, size, expr=None):
    kw = dict(orient="left", offset=-px(p["x0"]), values=values, grid=False, title=None, domain=major,
              domainColor=TICK_GREY, tickColor=TICK_GREY, tickSize=7 if major else 4, labels=major)
    if major:
        kw.update(labelFont=FLOW_FONT, labelFontSize=size, labelColor="#222222", labelPadding=3, labelOverlap=False)
        if expr:
            kw["labelExpr"] = expr
    return alt.Axis(**kw)


def frame(p):
    d = pd.DataFrame({"x": [0], "x2": [p["dx"]], "y": [0], "y2": [p["dy"]]})
    return alt.Chart(d).mark_rect(fill=None, stroke="#8a8a8a", strokeWidth=1.6).encode(
        x=X(p), x2="x2:Q", y=Y(p), y2="y2:Q")


def run_rows(p, rows, y_top, step):
    out = []
    for r, row in enumerate(rows):
        start = 0.0
        for tok in row.split():
            lvl, end = tok.split(":")
            end = float(end)
            if lvl != ".":
                out.append(dict(x=start, x2=end, y=y_top - (r + 1) * step, y2=y_top - r * step, c=OPAQUE[lvl]))
            start = end
    d = pd.DataFrame(out)
    return alt.Chart(d).mark_rect(strokeWidth=0.8).encode(
        x=X(p), x2="x2:Q", y=Y(p), y2="y2:Q", fill=alt.Fill("c:N", scale=None), stroke=alt.Stroke("c:N", scale=None))


def grid_rows(p, rows, x_start, y_top, cell):
    out = []
    for r, row in enumerate(rows):
        for c, ch in enumerate(row):
            if ch != ".":
                out.append(dict(x=x_start + c * cell, x2=x_start + (c + 1) * cell,
                                y=y_top - (r + 1) * cell, y2=y_top - r * cell, c=SEE_THROUGH[ch]))
    d = pd.DataFrame(out)
    return alt.Chart(d).mark_rect(strokeWidth=0).encode(
        x=X(p), x2="x2:Q", y=Y(p), y2="y2:Q", fill=alt.Fill("c:N", scale=None))


def gate_shape(p, gate):
    cx, cy, half, ratio, rot = gate
    path = f"M -1 0 A 1 {ratio} 0 1 0 1 0 A 1 {ratio} 0 1 0 -1 0 Z"
    d = pd.DataFrame({"x": [cx], "y": [cy]})
    return alt.Chart(d).mark_point(shape=path, size=(2 * half) ** 2, angle=rot, filled=False, stroke="#ea1c24",
                                   strokeWidth=2, opacity=1).encode(x=X(p), y=Y(p))


def dots(p, pts, color, size=6):
    d = pd.DataFrame(pts, columns=["x", "y"])
    return alt.Chart(d).mark_point(shape="square", filled=True, color=color, size=size, opacity=.95).encode(x=X(p), y=Y(p))


def blobs(p, pts, color, opacity=1.0):
    d = pd.DataFrame(pts, columns=["x", "y", "s"])
    return alt.Chart(d).mark_point(shape="circle", filled=True, color=color, opacity=opacity, strokeWidth=0).encode(
        x=X(p), y=Y(p), size=alt.Size("s:Q", scale=None))


def pct_text(p, items):
    layers = []
    for align in ("left", "right"):
        rows = [t for t in items if t[3] == align]
        if rows:
            d = pd.DataFrame(rows, columns=["t", "x", "y", "a"])
            layers.append(alt.Chart(d).mark_text(font=PCT_FONT, fontSize=34, color="#000000", align=align, baseline="middle").encode(
                x=X(p), y=Y(p), text="t:N"))
    return layers


def axes_layers(p, ticks, minor, size, expr=None):
    d = pd.DataFrame({"x": [0], "y": [0]})
    major = alt.Chart(d).mark_point(opacity=0).encode(
        x=X(p, axis=xaxis(p, ticks, True, size, expr)), y=Y(p, axis=yaxis(p, ticks, True, size, expr)))
    small = alt.Chart(d).mark_point(opacity=0).encode(
        x=X(p, axis=xaxis(p, minor, False, size)), y=Y(p, axis=yaxis(p, minor, False, size)))
    return [small, major]


def quadrants(p, colors):
    d = pd.DataFrame([
        dict(x=0, x2=p["gx"], y=p["gy"], y2=p["dy"], c=colors["ul"]),
        dict(x=p["gx"], x2=p["dx"], y=p["gy"], y2=p["dy"], c=colors["ur"]),
        dict(x=0, x2=p["gx"], y=0, y2=p["gy"], c=colors["ll"]),
        dict(x=p["gx"], x2=p["dx"], y=0, y2=p["gy"], c=colors["lr"]),
    ])
    return alt.Chart(d).mark_rect(strokeWidth=0).encode(x=X(p), x2="x2:Q", y=Y(p), y2="y2:Q", fill=alt.Fill("c:N", scale=None))


def gates(p, color):
    d1 = pd.DataFrame({"x": [p["gx"]], "y": [0], "y2": [p["dy"]]})
    d2 = pd.DataFrame({"x": [0], "x2": [p["dx"]], "y": [p["gy"]]})
    return [
        alt.Chart(d1).mark_rule(color=color, strokeWidth=3).encode(x=X(p), y=Y(p), y2="y2:Q"),
        alt.Chart(d2).mark_rule(color=color, strokeWidth=3).encode(x=X(p), x2="x2:Q", y=Y(p)),
    ]


def fsc_panel(p, upper, lower, gate):
    return ([run_rows(p, upper, 8.4, 0.3), run_rows(p, lower, 2.4, 0.1), gate_shape(p, gate), frame(p)]
            + axes_layers(p, LINEAR_TICKS, LINEAR_MINOR, 18))


def cd3_panel(p, rows, out, marks, gate, pct):
    mk = pd.DataFrame(marks, columns=["x", "y", "c"])
    return ([quadrants(p, CD3_COLORS), grid_rows(p, rows, 1.8, 4.6, 0.1), dots(p, out, "#8a2be0", 5),
             alt.Chart(mk).mark_point(shape="square", filled=True, size=9, opacity=1).encode(x=X(p), y=Y(p), fill=alt.Fill("c:N", scale=None))]
            + gates(p, MAGENTA) + [gate_shape(p, gate)] + pct_text(p, pct) + [frame(p)]
            + axes_layers(p, LOG_TICKS, LOG_MINOR, 18, "'10' + " + SUP))


def red_panel(p, halo, core, near, dark, bright, orange, blue, pct):
    return ([quadrants(p, R_COLORS), blobs(p, halo, "#e0142f", .28), dots(p, orange, "#f6693c"), dots(p, blue, "#b4344e"),
             dots(p, bright, "#fb1018"), dots(p, dark, "#dc1230"), dots(p, near, "#dc1230"), blobs(p, core, "#d80c2c")]
            + gates(p, AMBER) + pct_text(p, pct) + [frame(p)]
            + axes_layers(p, LOG_TICKS, LOG_MINOR, 18, "'10' + " + SUP))


def bar_panel(box, mean, up):
    def bx(axis=None):
        return alt.X("g:N", title=None, sort=GROUPS, axis=axis,
                     scale=alt.Scale(domain=GROUPS, range=[px(box["x0"]), px(box["x1"])],
                                     paddingInner=box["inner"], paddingOuter=box["outer"]))

    def by(f="v", axis=None):
        return alt.Y(f"{f}:Q", title=None, axis=axis,
                     scale=alt.Scale(domain=[0, box["top"]], range=[px(box["y1"]), px(box["y0"])], nice=False, zero=True))

    ax_x = alt.Axis(orient="bottom", offset=px(box["y1"]) - H, domain=False, tickColor="#000000", tickWidth=2, tickSize=9,
                    labelAngle=315, labelAlign="right", labelBaseline="middle", labelFont=FLOW_FONT, labelFontSize=21,
                    labelFontStyle="italic", labelFontWeight="bold", labelColor="#000000", labelPadding=8, title=None, grid=False)
    ax_y = alt.Axis(orient="left", offset=-px(box["x0"]), values=box["ticks"], domainColor="#000000", domainWidth=2.5,
                    tickColor="#000000", tickWidth=2.5, tickSize=5, labelFont=FLOW_FONT, labelFontSize=20,
                    labelFontWeight="bold", labelColor="#000000", labelPadding=2, title=None, grid=False,
                    labelExpr="format(datum.value,'.1f')" if box["top"] < 1 else "format(datum.value,'d')")
    d = pd.DataFrame({"g": GROUPS, "v": mean, "u": up, "c": BAR_COLORS})
    base = pd.DataFrame({"v": [0]})
    layers = [
        alt.Chart(d).mark_rule(color="#000000", strokeWidth=3).encode(x=bx(), y=by(), y2="u:Q"),
        alt.Chart(d).mark_tick(color="#000000", size=74, thickness=5).encode(x=bx(), y=by("u")),
        alt.Chart(d).mark_bar(strokeWidth=0).encode(x=bx(ax_x), y=by(axis=ax_y), fill=alt.Fill("c:N", scale=None)),
        alt.Chart(base).mark_rule(color="#000000", strokeWidth=4).encode(
            y=by(), x=alt.value(px(box["x0"] - 9)), x2=alt.value(px(box["x1"]))),
    ]
    if "sig" in box:
        a, b, v = box["sig"]
        sig = pd.DataFrame({"v": [v]})
        layers.append(alt.Chart(sig).mark_rule(color="#555555", strokeWidth=1.6).encode(
            y=by(), x=alt.value(px(a)), x2=alt.value(px(b))))
    return layers


def arrows():
    d = pd.DataFrame(ARROWS, columns=["x1", "y1", "x2", "y2", "w", "h", "s"])
    for c in ("x1", "y1", "x2", "y2"):
        d[c] = d[c] - 8
    raw_x = alt.X("x1:Q", scale=None, axis=None, title=None)
    raw_y = alt.Y("y1:Q", scale=None, axis=None, title=None)
    line = alt.Chart(d).mark_rule(color="#000000").encode(x=raw_x, y=raw_y, x2="x2:Q", y2="y2:Q", strokeWidth=alt.StrokeWidth("w:Q", scale=None))
    head = alt.Chart(d).mark_point(shape="triangle-up", filled=True, color="#000000", opacity=1).encode(
        x=alt.X("x2:Q", scale=None, axis=None, title=None), y=alt.Y("y2:Q", scale=None, axis=None, title=None),
        angle=alt.Angle("h:Q", scale=None), size=alt.Size("s:Q", scale=None))
    return [line, head]


def labels():
    d = pd.DataFrame(ARIAL_TEXT, columns=["t", "x", "y", "a", "s"])
    d["x"] -= 8
    d["y"] -= 8
    lay = [alt.Chart(d).mark_text(font=FLOW_FONT, color="#111111", baseline="middle", align="center").encode(
        x=alt.X("x:Q", scale=None, axis=None, title=None), y=alt.Y("y:Q", scale=None, axis=None, title=None),
        text="t:N", angle=alt.Angle("a:Q", scale=None), size=alt.Size("s:Q", scale=None))]
    e = pd.DataFrame(SECTION_TEXT, columns=["t", "x", "y", "s"])
    e["x"] -= 8
    e["y"] -= 8
    lay.append(alt.Chart(e).mark_text(font=PCT_FONT, color="#111111", baseline="middle", align="left").encode(
        x=alt.X("x:Q", scale=None, axis=None, title=None), y=alt.Y("y:Q", scale=None, axis=None, title=None),
        text="t:N", size=alt.Size("s:Q", scale=None)))
    return lay


layers = []
layers += fsc_panel(SHAM_FSC, FSC_SHAM_UPPER, FSC_SHAM_LOWER, SHAM_FSC_GATE)
layers += fsc_panel(BURN_FSC, FSC_BURN_UPPER, FSC_BURN_LOWER, BURN_FSC_GATE)
layers += cd3_panel(SHAM_CD3, CD3_SHAM, CD3_SHAM_OUT, MARKS_SHAM, SHAM_CD3_GATE, SHAM_CD3_PCT)
layers += cd3_panel(BURN_CD3, CD3_BURN, CD3_BURN_OUT, MARKS_BURN, BURN_CD3_GATE, BURN_CD3_PCT)
layers += red_panel(R1, R1_HALO, R1_CORE, R1_NEAR, R1_DARK, R1_BRIGHT, R1_ORANGE, R1_BLUE, R1_PCT)
layers += red_panel(R2, R2_HALO, R2_CORE, R2_NEAR, R2_DARK, R2_BRIGHT, R2_ORANGE, R2_BLUE, R2_PCT)
layers += red_panel(R3, R3_HALO, R3_CORE, R3_NEAR, R3_DARK, R3_BRIGHT, R3_ORANGE, R3_BLUE, R3_PCT)
layers += red_panel(R4, R4_HALO, R4_CORE, R4_NEAR, R4_DARK, R4_BRIGHT, R4_ORANGE, R4_BLUE, R4_PCT)
layers += bar_panel(V4_BOX, V4_MEAN, V4_UP)
layers += bar_panel(V1_BOX, V1_MEAN, V1_UP)
layers += arrows()
layers += labels()

chart = (
    alt.layer(*layers)
    .resolve_scale(x="independent", y="independent")
    .resolve_axis(x="independent", y="independent")
    .properties(width=W, height=H, padding=0, autosize=alt.AutoSizeParams(type="none"), background="white")
    .configure_view(stroke=None)
)
chart.save("out.html", embed_options={"renderer": "svg", "actions": False})
